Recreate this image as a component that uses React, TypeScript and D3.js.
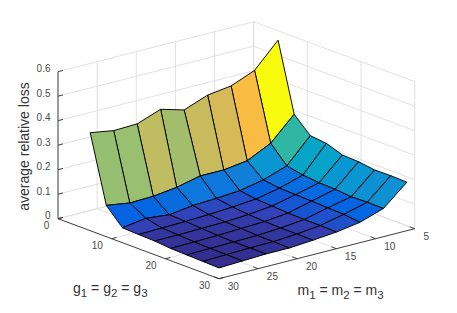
import React from 'react';
import * as d3 from 'd3';

// g1 = g2 = g3 along the rows, m1 = m2 = m3 along the columns
const gValues = [6, 9, 12, 15, 18, 21, 24, 27, 30];
const mValues = [30, 27, 24, 21, 18, 15, 12, 9, 6];

const lossG6 = [0.4, 0.384, 0.387, 0.422, 0.395, 0.431, 0.444, 0.483, 0.582];
const lossG9 = [0.128, 0.113, 0.116, 0.128, 0.15, 0.15, 0.163, 0.21, 0.304];
const lossG12 = [0.061, 0.075, 0.065, 0.078, 0.083, 0.09, 0.109, 0.142, 0.241];
const lossG15 = [0.058, 0.06, 0.062, 0.066, 0.072, 0.08, 0.1, 0.129, 0.234];
const lossG18 = [0.056, 0.056, 0.058, 0.06, 0.066, 0.076, 0.098, 0.122, 0.211];
const lossG21 = [0.05, 0.052, 0.054, 0.058, 0.062, 0.072, 0.096, 0.12, 0.208];
const lossG24 = [0.048, 0.05, 0.052, 0.054, 0.06, 0.07, 0.093, 0.114, 0.199];
const lossG27 = [0.046, 0.049, 0.052, 0.053, 0.06, 0.07, 0.091, 0.116, 0.2];
const lossG30 = [0.044, 0.048, 0.052, 0.052, 0.059, 0.068, 0.083, 0.115, 0.198];
const loss = [lossG6, lossG9, lossG12, lossG15, lossG18, lossG21, lossG24, lossG27, lossG30];

const gTicks = [0, 10, 20, 30];
const mTicks = [5, 10, 15, 20, 25, 30];
const zTicks = [0, 0.1, 0.2, 0.3, 0.4, 0.5, 0.6];

// parula
const parula = [
  '#352a87', '#3243ba', '#0363e1', '#0d75dc', '#1485d4', '#0998d1', '#06a7c6', '#15b1b4', '#38b99e',
  '#65be86', '#92bf73', '#b7bd64', '#d9ba56', '#f8bb44', '#fcce2e', '#f5e41d', '#f9fb0e',
];

const origin = { x: 58, y: 218.7 };
const gx = d3.scaleLinear().domain([0, 30]).range([0, 161]);
const gy = d3.scaleLinear().domain([0, 30]).range([0, 60]);
const mx = d3.scaleLinear().domain([30, 5]).range([0, 195.7]);
const my = d3.scaleLinear().domain([30, 5]).range([0, -50]);
const zy = d3.scaleLinear().domain([0, 0.6]).range([0, -147]);

const project = (g: number, m: number, z: number): [number, number] => [
  origin.x + gx(g) + mx(m),
  origin.y + gy(g) + my(m) + zy(z),
];

const allLoss = loss.flat();
const color = d3
  .scaleSequential(d3.piecewise(d3.interpolateRgb, parula))
  .domain([d3.min(allLoss) as number, d3.max(allLoss) as number]);

const polyLine = d3.line();

const Sub = ({ base, sub }: { base: string; sub: string }) => (
  <>
    <tspan>{base}</tspan>
    <tspan fontSize={11.5} dy={4}>{sub}</tspan>
    <tspan dy={-4}> </tspan>
  </>
);

export default function App() {
  const gridColor = '#dedede';
  const axisColor = '#333';
  const tickColor = '#4a4a4a';
  const zMax = 0.6;
  const gridLines: [number, number, number][][] = [];

  mTicks.forEach((m) => {
    gridLines.push([[0, m, 0], [0, m, zMax]]);
    gridLines.push([[0, m, 0], [30, m, 0]]);
  });
  gTicks.forEach((g) => {
    gridLines.push([[g, 5, 0], [g, 5, zMax]]);
    gridLines.push([[g, 5, 0], [g, 30, 0]]);
  });
  zTicks.forEach((z) => {
    gridLines.push([[0, 30, z], [0, 5, z]]);
    gridLines.push([[0, 5, z], [30, 5, z]]);
  });

  // back to front: small g, small m are furthest away
  const cells: { points: [number, number][]; fill: string; key: string }[] = [];
  for (let i = 0; i < gValues.length - 1; i++) {
    for (let j = mValues.length - 2; j >= 0; j--) {
      cells.push({
        key: `${i}-${j}`,
        points: [
          project(gValues[i], mValues[j], loss[i][j]),
          project(gValues[i], mValues[j + 1], loss[i][j + 1]),
          project(gValues[i + 1], mValues[j + 1], loss[i + 1][j + 1]),
          project(gValues[i + 1], mValues[j], loss[i + 1][j]),
        ],
        fill: color(loss[i][j + 1]),
      });
    }
  }

  return (
    <svg
      width={457}
      height={313}
      style={{ position: 'absolute', left: 0, top: 0, background: '#fff' }}
      fontFamily="'Liberation Sans', Arial, sans-serif"
    >
      <g fill="none" stroke={gridColor} strokeWidth={0.9}>
        {gridLines.map((l, i) => (
          <path key={i} d={polyLine(l.map((p) => project(p[0], p[1], p[2]))) as string} />
        ))}
      </g>

      <g stroke="#000" strokeWidth={0.95} strokeLinejoin="round">
        {cells.map((c) => (
          <path key={c.key} d={polyLine(c.points) + 'Z'} fill={c.fill} />
        ))}
      </g>

      {/* axes */}
      <g fill="none" stroke={axisColor} strokeWidth={0.9}>
        <path d={polyLine([project(0, 30, 0), project(0, 30, zMax)]) as string} />
        <path d={polyLine([project(0, 30, 0), project(30, 30, 0)]) as string} />
        <path d={polyLine([project(30, 30, 0), project(30, 5, 0)]) as string} />
        {zTicks.map((z) => {
          const [x, y] = project(0, 30, z);
          return <path key={z} d={`M${x},${y}l5,-1.3`} />;
        })}
        {gTicks.map((g) => {
          const [x, y] = project(g, 30, 0);
          return <path key={g} d={`M${x},${y}l5,-1.3`} />;
        })}
        {mTicks.map((m) => {
          const [x, y] = project(30, m, 0);
          return <path key={m} d={`M${x},${y}l-5,-1.9`} />;
        })}
      </g>

      <g fontSize={10} fill={tickColor}>
        {zTicks.map((z) => {
          const [x, y] = project(0, 30, z);
          return (
            <text key={z} x={x - 7.5} y={y - 3} textAnchor="end" dominantBaseline="central">
              {z}
            </text>
          );
        })}
        {gTicks.map((g) => {
          const [x, y] = project(g, 30, 0);
          return (
            <text key={g} x={x - 8.8} y={y + 7} textAnchor="end" dominantBaseline="central">
              {g}
            </text>
          );
        })}
        {mTicks.map((m) => {
          const [x, y] = project(30, m, 0);
          return (
            <text key={m} x={x + 8.7} y={y + 8} dominantBaseline="central">
              {m}
            </text>
          );
        })}
      </g>

      <g fontSize={14} fill="#333">
        <text transform="translate(29,146.5) rotate(-90)" textAnchor="middle">
          average relative loss
        </text>
        <text x={73} y={293}>
          <Sub base="g" sub="1" />= <Sub base="g" sub="2" />= <Sub base="g" sub="3" />
        </text>
        <text x={297.5} y={295}>
          <Sub base="m" sub="1" />= <Sub base="m" sub="2" />= <Sub base="m" sub="3" />
        </text>
      </g>
    </svg>
  );
}
